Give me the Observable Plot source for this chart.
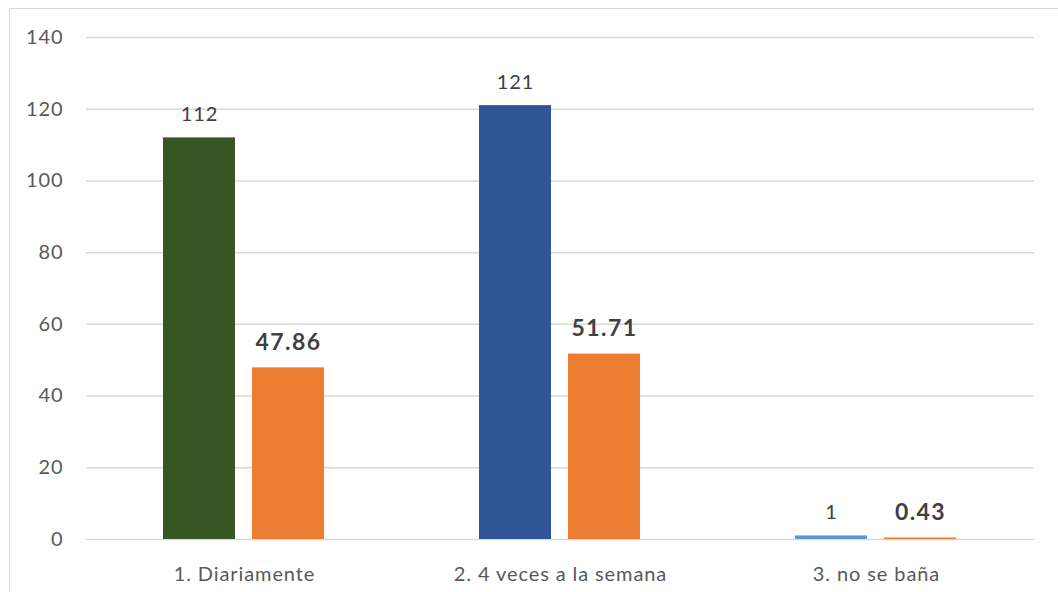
<!DOCTYPE html>
<html>
<head>
<meta charset="utf-8">
<script src="https://cdn.jsdelivr.net/npm/d3@7"></script>
<script src="https://cdn.jsdelivr.net/npm/@observablehq/plot@0.6"></script>
<style>
  html, body { margin: 0; padding: 0; background: #fff; }
  #wrap { position: relative; width: 1058px; height: 592px; overflow: hidden; }
  #frame { position: absolute; left: 9px; top: 8px; width: 1070px; height: 600px; border: 1.5px solid #d9d9d9; box-sizing: border-box; pointer-events: none; }
  #chart { position: absolute; left: 0; top: 0; }
  #chart svg text { letter-spacing: 0.9px; }
  #chart svg g.pct text { letter-spacing: 1.4px; }
</style>
</head>
<body>
<div id="wrap"><div id="frame"></div><div id="chart"></div></div>
<script>
const categories = ["1. Diariamente", "2. 4 veces a la semana", "3. no se baña"];
const counts = [112, 121, 1];
const percents = [47.86, 51.71, 0.43];
const countColors = ["#375623", "#2F5597", "#5B9BD5"];
const percentColor = "#ED7D31";
const yTicks = [0, 20, 40, 60, 80, 100, 120, 140];

const data = [];
categories.forEach((c, i) => {
  data.push({cat: c, series: "n", value: counts[i], color: countColors[i], label: String(counts[i])});
  data.push({cat: c, series: "pct", value: percents[i], color: percentColor, label: percents[i].toFixed(2)});
});
const countData = data.filter(d => d.series === "n");
const pctData = data.filter(d => d.series === "pct");

const font = "Lato, 'Open Sans', sans-serif";

const chart = Plot.plot({
  width: 1058,
  height: 592,
  marginLeft: 85,
  marginRight: 23,
  marginTop: 37,
  marginBottom: 53,
  style: {fontFamily: font, background: "transparent"},
  fx: {domain: categories, padding: 0, label: null},
  x: {domain: ["n", "pct"], paddingInner: 0.19, paddingOuter: 0.855, axis: null},
  y: {domain: [0, 140], label: null, axis: null},
  marks: [
    Plot.ruleY(yTicks, {stroke: "#d9d9d9", strokeWidth: 1.5}),
    Plot.axisY({ticks: yTicks, tickSize: 0, tickPadding: 23, fontSize: 20, label: null, fill: "#595959"}),
    Plot.axisFx({anchor: "bottom", tickSize: 0, tickPadding: 27, fontSize: 20, fill: "#595959", label: null}),
    Plot.barY(data, {fx: "cat", x: "series", y: "value", fill: "color"}),
    Plot.text(countData, {fx: "cat", x: "series", y: "value", text: "label", dy: -23, fontSize: 20, fill: "#404040"}),
    Plot.text(pctData, {fx: "cat", x: "series", y: "value", text: "label", dy: -25, fontSize: 23, fontWeight: "bold", fill: "#404040", className: "pct"})
  ]
});
document.getElementById("chart").appendChild(chart);
</script>
</body>
</html>
